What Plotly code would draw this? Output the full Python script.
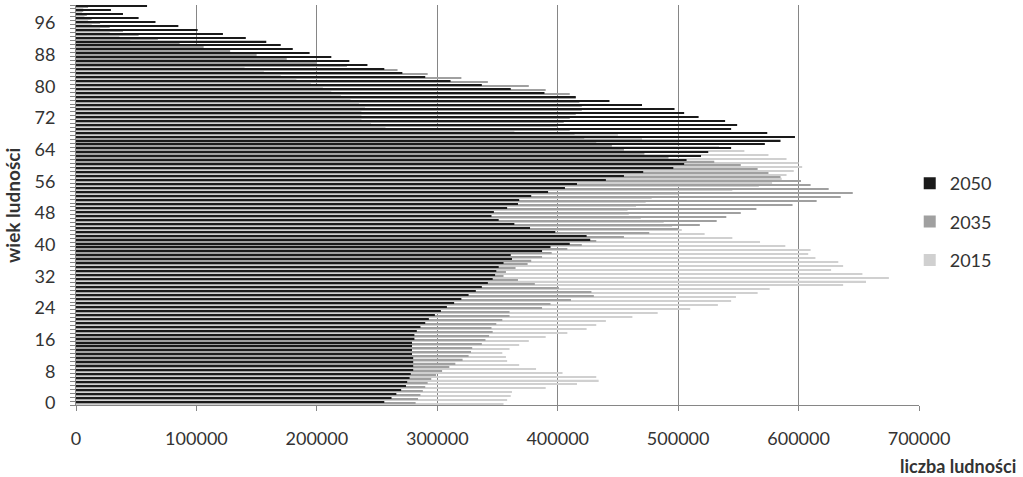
import plotly.graph_objects as go

# age 0..100 (last one is 100+)
AGES = list(range(0, 101))
AGE_TICKS = list(range(0, 97, 8))
X_TICKS = [0, 100000, 200000, 300000, 400000, 500000, 600000, 700000]

POP_2015 = [
    355000, 358000, 361000, 362000, 390000, 416000, 434000, 432000, 404000, 382000,
    368000, 358000, 357000, 354000, 360000, 368000, 376000, 390000, 408000, 424000,
    432000, 440000, 462000, 483000, 510000, 533000, 544000, 548000, 566000, 576000,
    637000, 656000, 675000, 653000, 627000, 637000, 633000, 614000, 608000, 610000,
    589000, 568000, 545000, 522000, 503000, 495000, 488000, 469000, 459000, 458000,
    465000, 473000, 478000, 500000, 545000, 567000, 578000, 586000, 590000, 596000,
    603000, 600000, 590000, 575000, 555000, 534000, 500000, 470000, 450000, 364000,
    257000, 245000, 237000, 237000, 237000, 240000, 235000, 228000, 220000, 212000,
    205000, 195000, 183000, 170000, 156000, 140000, 125000, 110000, 95000, 82000,
    70000, 57000, 45000, 36000, 28000, 20000, 13000, 10000, 7000, 5000,
    6000,
]

POP_2035 = [
    282000, 284000, 286000, 288000, 290000, 292000, 295000, 299000, 304000, 310000,
    315000, 321000, 326000, 328000, 329000, 337000, 340000, 343000, 346000, 345000,
    349000, 354000, 360000, 360000, 387000, 394000, 411000, 430000, 428000, 401000,
    381000, 367000, 355000, 357000, 365000, 375000, 378000, 387000, 395000, 408000,
    420000, 432000, 455000, 476000, 500000, 518000, 532000, 540000, 552000, 565000,
    595000, 615000, 635000, 645000, 625000, 610000, 602000, 585000, 575000, 566000,
    552000, 530000, 492000, 472000, 455000, 445000, 432000, 422000, 414000, 410000,
    400000, 405000, 410000, 415000, 420000, 420000, 418000, 415000, 410000, 390000,
    376000, 342000, 320000, 292000, 267000, 225000, 200000, 175000, 150000, 128000,
    106000, 86000, 68000, 52000, 39000, 28000, 20000, 13000, 9000, 6000,
    10000,
]

POP_2050 = [
    256000, 262000, 266000, 270000, 274000, 275000, 277000, 278000, 280000, 280000,
    280000, 280000, 279000, 279000, 279000, 279000, 281000, 281000, 283000, 286000,
    290000, 293000, 298000, 303000, 308000, 314000, 320000, 326000, 332000, 337000,
    342000, 346000, 348000, 349000, 351000, 355000, 362000, 361000, 387000, 394000,
    410000, 427000, 424000, 398000, 377000, 364000, 351000, 345000, 347000, 358000,
    367000, 368000, 378000, 392000, 406000, 416000, 440000, 455000, 471000, 496000,
    505000, 507000, 519000, 525000, 544000, 572000, 585000, 597000, 574000, 544000,
    549000, 539000, 517000, 505000, 497000, 470000, 443000, 415000, 389000, 361000,
    337000, 311000, 290000, 271000, 256000, 242000, 227000, 212000, 194000, 180000,
    170000, 158000, 141000, 122000, 101000, 85000, 66000, 52000, 39000, 29000,
    59000,
]

# (name, values, colour, legend rank) - 2015 first so it sits lowest in each age row
SERIES = [
    ("2015", POP_2015, "#d0d0d0", 3),
    ("2035", POP_2035, "#a0a0a0", 2),
    ("2050", POP_2050, "#1a1a1a", 1),
]

FONT = "Lato, 'Open Sans', sans-serif"
TEXT_COLOR = "#333333"
GRID_COLOR = "#868686"

fig = go.Figure()
for name, values, color, rank in SERIES:
    fig.add_trace(
        go.Bar(
            x=values,
            y=AGES,
            name=name,
            orientation="h",
            marker=dict(color=color, line=dict(width=0)),
            legendgroup=name,
            legendrank=rank,
        )
    )

fig.update_layout(
    width=1023,
    height=477,
    margin=dict(l=76, r=104, t=5, b=72),
    paper_bgcolor="white",
    plot_bgcolor="white",
    barmode="group",
    bargap=0.1,
    bargroupgap=0,
    font=dict(family=FONT, size=18, color=TEXT_COLOR),
    showlegend=True,
    legend=dict(
        x=0.989,
        xanchor="left",
        y=0.4575,
        yanchor="middle",
        traceorder="grouped",
        tracegroupgap=12,
        font=dict(size=18, color=TEXT_COLOR),
        bgcolor="rgba(0,0,0,0)",
    ),
    hovermode=False,
)

fig.update_xaxes(
    range=[0, 700000],
    tickvals=X_TICKS,
    tickformat="d",
    showgrid=True,
    gridcolor=GRID_COLOR,
    gridwidth=1,
    zeroline=False,
    showline=True,
    linecolor=GRID_COLOR,
    ticks="outside",
    ticklen=5,
    tickcolor=GRID_COLOR,
    ticklabelstandoff=12,
)

fig.update_yaxes(
    range=[-0.5, 100.5],
    tickvals=AGE_TICKS,
    showgrid=False,
    zeroline=False,
    showline=True,
    linecolor=GRID_COLOR,
    ticks="",
    minor=dict(tickmode="linear", tick0=0.5, dtick=1, ticks="outside", ticklen=5, tickcolor=GRID_COLOR),
    ticklabelstandoff=16,
)

# axis titles sit where Excel put them
fig.add_annotation(
    text="<b>wiek ludności</b>",
    xref="paper", yref="paper",
    x=-0.076, y=0.5,
    xanchor="center", yanchor="middle",
    textangle=-90,
    showarrow=False,
    font=dict(size=19, color=TEXT_COLOR),
)
fig.add_annotation(
    text="<b>liczba ludności</b>",
    xref="paper", yref="paper",
    x=1.1174, y=-0.1525,
    xanchor="right", yanchor="middle",
    showarrow=False,
    font=dict(size=18, color=TEXT_COLOR),
)

# the page body has a default 8px margin; drop it so the chart fills the window
fig.write_html(
    "out.html",
    config={"displayModeBar": False},
    post_script="document.body.style.margin='0';",
)
